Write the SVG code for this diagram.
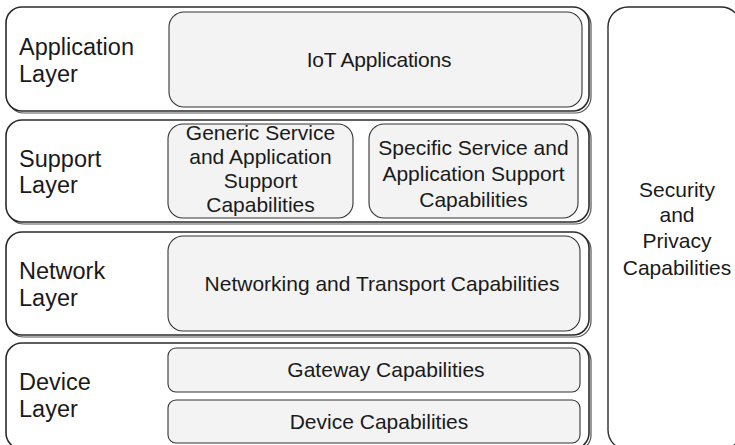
<svg xmlns="http://www.w3.org/2000/svg" width="735" height="445" viewBox="0 0 735 445">
<style>
.layer{fill:#ffffff;stroke:#2b2b2b;stroke-width:1.6}
.shadow{fill:none;stroke:#555;stroke-width:1.2}
.cap{fill:#f3f3f3;stroke:#333;stroke-width:1.1}
.sec{fill:#ffffff;stroke:#2b2b2b;stroke-width:1.4}
.lbl{font-family:"Liberation Sans",Arial,sans-serif;font-size:23.5px;fill:#1a1a1a}
.t{font-family:"Liberation Sans",Arial,sans-serif;font-size:21px;fill:#1a1a1a;text-anchor:middle}
</style>
<rect width="735" height="445" fill="#ffffff"/>
<g id="connectors"/>
<g id="application-layer">
<rect class="shadow" x="8" y="9" width="583" height="104" rx="16"/>
<rect class="layer" x="6" y="7" width="583" height="104" rx="16"/>
<text class="lbl" x="19" y="55">Application</text>
<text class="lbl" x="19" y="82">Layer</text>
</g>
<g id="iot-applications">
<rect class="cap" x="169" y="12" width="413" height="95" rx="15"/>
<text class="t" x="379" y="67" letter-spacing="-0.2">IoT Applications</text>
</g>
<g id="support-layer">
<rect class="shadow" x="8" y="122" width="583" height="102" rx="16"/>
<rect class="layer" x="6" y="120" width="583" height="102" rx="16"/>
<text class="lbl" x="19" y="167">Support</text>
<text class="lbl" x="19" y="193">Layer</text>
</g>
<g id="generic-support">
<rect class="cap" x="168" y="124" width="185" height="94" rx="15"/>
<text class="t" x="260.5" y="140">Generic Service</text>
<text class="t" x="260.5" y="164">and Application</text>
<text class="t" x="260.5" y="188">Support</text>
<text class="t" x="260.5" y="212">Capabilities</text>
</g>
<g id="specific-support">
<rect class="cap" x="369" y="124" width="209" height="94" rx="15"/>
<text class="t" x="473.5" y="155">Specific Service and</text>
<text class="t" x="473.5" y="181">Application Support</text>
<text class="t" x="473.5" y="207">Capabilities</text>
</g>
<g id="network-layer">
<rect class="shadow" x="8" y="234" width="583" height="103" rx="16"/>
<rect class="layer" x="6" y="232" width="583" height="103" rx="16"/>
<text class="lbl" x="19" y="279">Network</text>
<text class="lbl" x="19" y="306">Layer</text>
</g>
<g id="networking-transport">
<rect class="cap" x="168" y="236" width="412" height="95" rx="15"/>
<text class="t" x="382" y="291">Networking and Transport Capabilities</text>
</g>
<g id="device-layer">
<rect class="shadow" x="8" y="345" width="583" height="106" rx="16"/>
<rect class="layer" x="6" y="343" width="583" height="106" rx="16"/>
<text class="lbl" x="19" y="390">Device</text>
<text class="lbl" x="19" y="417">Layer</text>
</g>
<g id="gateway-capabilities">
<rect class="cap" x="168" y="348" width="412" height="44" rx="8"/>
<text class="t" x="386" y="377">Gateway Capabilities</text>
</g>
<g id="device-capabilities">
<rect class="cap" x="168" y="400" width="412" height="43" rx="8"/>
<text class="t" x="379" y="429">Device Capabilities</text>
</g>
<g id="security-privacy">
<rect class="sec" x="608" y="7" width="133" height="443" rx="20"/>
<text class="t" x="677" y="197">Security</text>
<text class="t" x="677" y="222">and</text>
<text class="t" x="677" y="248">Privacy</text>
<text class="t" x="677" y="275">Capabilities</text>
</g>
</svg>
